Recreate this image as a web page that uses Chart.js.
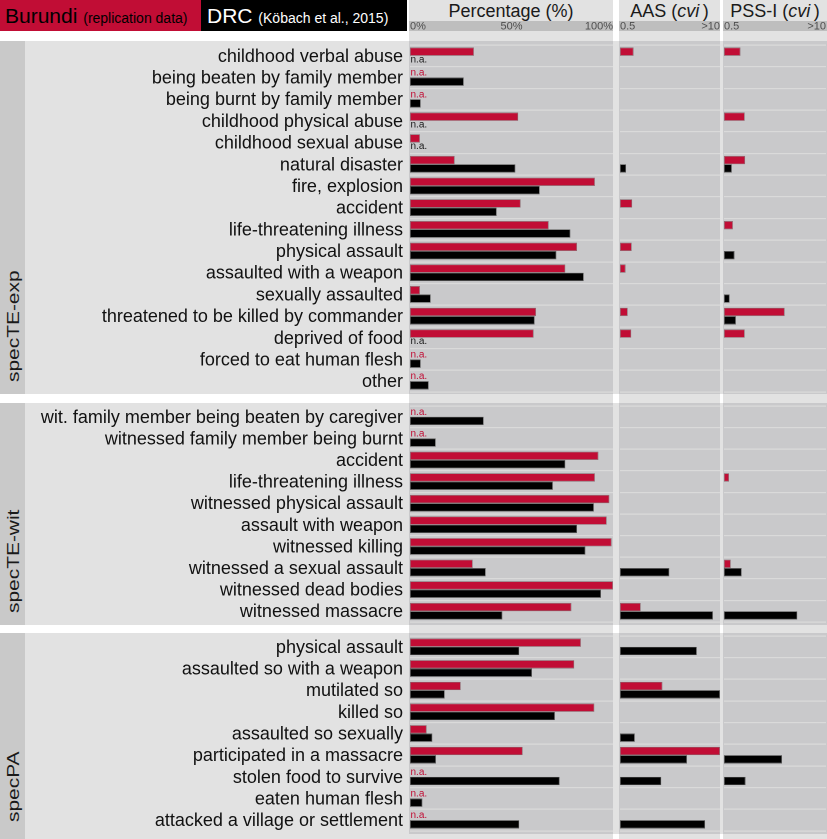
<!DOCTYPE html>
<html>
<head>
<meta charset="utf-8">
<script src="https://cdn.jsdelivr.net/npm/chart.js@4.4.1/dist/chart.umd.min.js"></script>
<style>
html,body{margin:0;padding:0;background:#fff;}
body{width:827px;height:839px;position:relative;overflow:hidden;font-family:"Liberation Sans",Arial,Helvetica,sans-serif;}
.bg{position:absolute;}
.hdr{position:absolute;top:0;height:31px;line-height:31px;font-size:21px;white-space:nowrap;box-sizing:border-box;}
.hdr small{font-size:14px;}
.ptitle{position:absolute;top:1px;line-height:21px;font-size:18px;text-align:center;color:#1a1a1a;white-space:nowrap;}
.glabel{position:absolute;font-size:17px;line-height:17px;white-space:nowrap;color:#1a1a1a;transform-origin:0 0;transform:rotate(-90deg) scaleX(1.23);}
canvas{position:absolute;}
</style>
</head>
<body>
<div id="bgs"></div>
<div class="hdr" style="left:0;width:201px;background:#c10d35;color:#000;padding-left:5px;">Burundi <small>(replication data)</small></div>
<div class="hdr" style="left:201px;width:206px;background:#000;color:#fff;padding-left:6px;">DRC <small>(Köbach et al., 2015)</small></div>
<div class="ptitle" style="left:409px;width:204px;">Percentage (%)</div>
<div class="ptitle" style="left:619px;width:101px;">AAS (<i>cvi</i>&#8201;)</div>
<div class="ptitle" style="left:723px;width:104px;">PSS-I (<i>cvi</i>&#8201;)</div>
<div id="glabels"></div>
<div id="charts"></div>
<script>
const FONT = '"Liberation Sans", Arial, Helvetica, sans-serif';
const RED = '#c10d35';

// ---- categories ----
const groupNames = ['specTE-exp', 'specTE-wit', 'specPA'];
const expLabels = ['childhood verbal abuse','being beaten by family member','being burnt by family member','childhood physical abuse','childhood sexual abuse','natural disaster','fire, explosion','accident','life-threatening illness','physical assault','assaulted with a weapon','sexually assaulted','threatened to be killed by commander','deprived of food','forced to eat human flesh','other'];
const witLabels = ['wit. family member being beaten by caregiver','witnessed family member being burnt','accident','life-threatening illness','witnessed physical assault','assault with weapon','witnessed killing','witnessed a sexual assault','witnessed dead bodies','witnessed massacre'];
const paLabels = ['physical assault','assaulted so with a weapon','mutilated so','killed so','assaulted so sexually','participated in a massacre','stolen food to survive','eaten human flesh','attacked a village or settlement'];

// ---- tick labels ----
const pctTickValues = [0, 50, 100];
const pctTicks = ['0%', '50%', '100%'];
const cviTickValues = [0.5, 10];
const cviTicks = ['0.5', '>10'];

// ---- percentages (null = n.a.) ----
const expPctBurundi = [31.5, null, null, 53.3, 4.9, 22.0, 91.1, 54.5, 68.3, 82.3, 76.5, 4.9, 62.1, 60.9, null, null];
const expPctDRC     = [null, 26.5, 5.3, null, null, 51.9, 63.9, 42.7, 79.0, 72.1, 85.6, 10.2, 61.4, null, 5.3, 9.2];
const witPctBurundi = [null, null, 92.8, 91.1, 98.2, 96.9, 99.3, 30.9, 100, 79.5];
const witPctDRC     = [36.3, 12.7, 76.5, 70.4, 90.6, 82.3, 86.4, 37.3, 94.1, 45.5];
const paPctBurundi  = [84.2, 80.9, 25.0, 90.8, 8.2, 55.5, null, null, null];
const paPctDRC      = [53.8, 60.1, 17.1, 71.4, 11.0, 12.8, 73.7, 6.1, 53.8];

// ---- AAS cvi ----
const expAASBurundi = [0.75, null, null, null, null, null, null, 0.72, null, 0.71, 0.59, null, 0.63, 0.70, null, null];
const expAASDRC     = [null, null, null, null, null, 0.60, null, null, null, null, null, null, null, null, null, null];
const witAASBurundi = [null, null, null, null, null, null, null, null, null, 0.93];
const witAASDRC     = [null, null, null, null, null, null, null, 2.19, null, 8.1];
const paAASBurundi  = [null, null, 1.78, null, null, 10, null, null, null];
const paAASDRC      = [5.0, null, 10, null, 0.78, 3.72, 1.72, null, 6.4];

// ---- PSS-I cvi ----
const expPSSBurundi = [0.81, null, null, 0.92, null, 0.93, null, null, 0.65, null, null, null, 2.97, 0.92, null, null];
const expPSSDRC     = [null, null, null, null, null, 0.63, null, null, null, 0.68, null, 0.59, 0.71, null, null, null];
const witPSSBurundi = [null, null, null, 0.58, null, null, null, 0.61, null, null];
const witPSSDRC     = [null, null, null, null, null, null, null, 0.84, null, 4.3];
const paPSSBurundi  = [null, null, null, null, null, null, null, null, null];
const paPSSDRC      = [null, null, null, null, null, 2.75, 0.94, null, null];

// ---- layout (positions only) ----
const LIGHT = '#e2e2e2', PANEL = '#c9c9cb', STRIP = '#c9c9c9', TICKSTRIP = '#bebebe';
const cols = {pct: {x: 409, w: 204}, aas: {x: 619, w: 101}, pss: {x: 723, w: 104}};
const canv = {pct: {x: 25, w: 588, pl: 0, pr: 0}, aas: {x: 619, w: 101, pl: 1, pr: 0}, pss: {x: 723, w: 104, pl: 1, pr: 1}};
const groupsY = [
  {top: 41, bottom: 394, leftBottom: 394, padTop: 0, padBottom: 2},
  {top: 403, bottom: 625, leftBottom: 625, padTop: 3, padBottom: 3},
  {top: 633, bottom: 834, leftBottom: 839, padTop: 3, padBottom: 3}
];

const bgs = document.getElementById('bgs');
function rect(x, y, w, h, c) {
  const d = document.createElement('div');
  d.className = 'bg';
  d.style.cssText = `left:${x}px;top:${y}px;width:${w}px;height:${h}px;background:${c};`;
  bgs.appendChild(d);
}
Object.values(cols).forEach(c => { rect(c.x, 0, c.w, 839, LIGHT); rect(c.x, 21, c.w, 10, TICKSTRIP); });
groupsY.forEach(g => {
  const h = g.bottom - g.top;
  rect(613, g.top, 6, h, LIGHT);
  rect(720, g.top, 3, h, LIGHT);
  Object.values(cols).forEach(c => rect(c.x, g.top, c.w, h, PANEL));
  rect(0, g.top, 25, g.leftBottom - g.top, STRIP);
  rect(25, g.top, 384, g.leftBottom - g.top, LIGHT);
});

// group labels (rotated, anchored near bottom of each group)
const gl = document.getElementById('glabels');
groupNames.forEach((name, i) => {
  const d = document.createElement('div');
  d.className = 'glabel';
  d.textContent = name;
  d.style.left = '5px';
  d.style.top = (groupsY[i].bottom - 12) + 'px';
  gl.appendChild(d);
});

// n.a. labels plugin
const naPlugin = {
  id: 'naLabels',
  afterDatasetsDraw(chart) {
    const ctx = chart.ctx, area = chart.chartArea;
    ctx.save();
    ctx.font = '10px ' + FONT;
    ctx.textBaseline = 'middle';
    ctx.textAlign = 'left';
    chart.data.datasets.forEach((ds, di) => {
      const meta = chart.getDatasetMeta(di);
      ds.data.forEach((v, i) => {
        if (v === null && meta.data[i]) {
          ctx.fillStyle = ds.naColor;
          ctx.fillText('n.a.', area.left + 0.5, meta.data[i].y - 0.5);
        }
      });
    });
    ctx.restore();
  }
};

const chartsDiv = document.getElementById('charts');
function buildChart(gi, kind, labels, burundi, drc) {
  const g = groupsY[gi];
  const withAxis = gi === 0;
  const c = canv[kind];
  const top = withAxis ? 21 : g.top;
  const height = g.bottom - top;
  const cv = document.createElement('canvas');
  cv.width = c.w; cv.height = height;
  cv.style.left = c.x + 'px'; cv.style.top = top + 'px';
  cv.style.width = c.w + 'px'; cv.style.height = height + 'px';
  chartsDiv.appendChild(cv);
  const isPct = kind === 'pct';
  const tickVals = isPct ? pctTickValues : cviTickValues;
  const tickTxt = isPct ? pctTicks : cviTicks;
  const xScale = isPct ? {type: 'linear', min: 0, max: 100} : {type: 'logarithmic', min: 0.5, max: 10};
  Object.assign(xScale, {
    position: 'top',
    display: withAxis,
    grid: {display: false, drawTicks: false},
    border: {display: false},
    afterBuildTicks: s => { s.ticks = tickVals.map(v => ({value: v})); },
    afterFit: s => {
      s.height = withAxis ? 24 : 0;
      s.paddingLeft = 0; s.paddingRight = 0; s.paddingTop = 0; s.paddingBottom = 0;
    },
    ticks: {
      align: 'inner', maxRotation: 0, minRotation: 0, autoSkip: false, padding: 12,
      color: '#4d4d4d', font: {family: FONT, size: 11},
      callback: (v, i) => tickTxt[i]
    }
  });
  return new Chart(cv, {
    type: 'bar',
    data: {
      labels: labels,
      datasets: [
        {label: 'Burundi', data: burundi, backgroundColor: RED, borderColor: 'rgba(90,30,40,0.55)', borderWidth: 0.7, borderSkipped: false, barPercentage: 1, categoryPercentage: 0.77, naColor: RED},
        {label: 'DRC', data: drc, backgroundColor: '#000', borderColor: '#5a5a5a', borderWidth: 0.7, borderSkipped: false, barPercentage: 1, categoryPercentage: 0.77, naColor: '#1a1a1a'}
      ]
    },
    options: {
      indexAxis: 'y',
      responsive: false,
      animation: false,
      devicePixelRatio: 2,
      layout: {padding: {top: g.padTop, bottom: g.padBottom, left: c.pl, right: c.pr}},
      plugins: {legend: {display: false}, tooltip: {enabled: false}},
      scales: {
        x: xScale,
        y: {
          type: 'category',
          grid: {offset: true, color: '#dadada', lineWidth: 1.2, drawTicks: false},
          border: {display: false},
          ticks: {display: isPct, padding: 7, labelOffset: 1, autoSkip: false, color: '#111', font: {family: FONT, size: 18}},
          afterFit: s => {
            s.width = isPct ? 385 : 0;
            s.paddingLeft = 0; s.paddingRight = 0; s.paddingTop = 0; s.paddingBottom = 0;
          }
        }
      }
    },
    plugins: isPct ? [naPlugin] : []
  });
}

const groupData = [
  {labels: expLabels, pct: [expPctBurundi, expPctDRC], aas: [expAASBurundi, expAASDRC], pss: [expPSSBurundi, expPSSDRC]},
  {labels: witLabels, pct: [witPctBurundi, witPctDRC], aas: [witAASBurundi, witAASDRC], pss: [witPSSBurundi, witPSSDRC]},
  {labels: paLabels,  pct: [paPctBurundi, paPctDRC],   aas: [paAASBurundi, paAASDRC],   pss: [paPSSBurundi, paPSSDRC]}
];
groupData.forEach((gd, gi) => {
  ['pct', 'aas', 'pss'].forEach(k => buildChart(gi, k, gd.labels, gd[k][0], gd[k][1]));
});
</script>
</body>
</html>
